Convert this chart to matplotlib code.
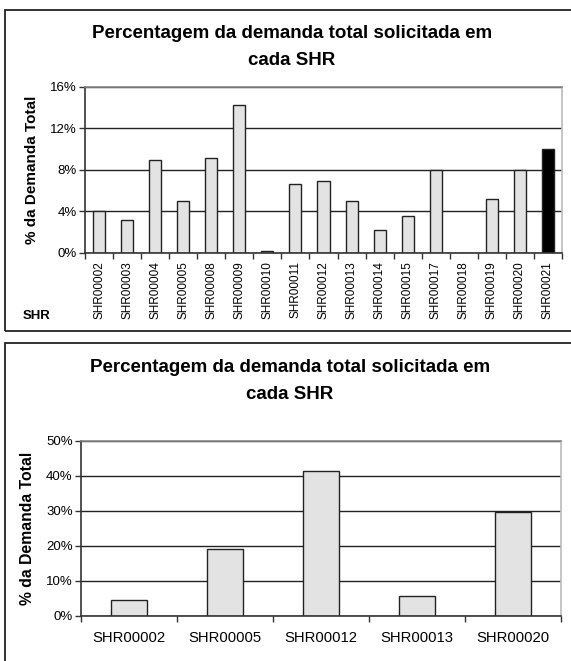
import matplotlib.pyplot as plt
from matplotlib.patches import Rectangle
from matplotlib.ticker import FuncFormatter, FixedLocator

plt.rcParams['font.family'] = ['Liberation Sans', 'DejaVu Sans']

# top chart data
shr_all = ['SHR00002', 'SHR00003', 'SHR00004', 'SHR00005', 'SHR00008', 'SHR00009',
           'SHR00010', 'SHR00011', 'SHR00012', 'SHR00013', 'SHR00014', 'SHR00015',
           'SHR00017', 'SHR00018', 'SHR00019', 'SHR00020', 'SHR00021']
pct_all = [4.0, 3.15, 8.9, 5.0, 9.15, 14.25, 0.15, 6.65, 6.95, 5.0, 2.2, 3.5,
           8.0, 0.0, 5.2, 8.0, 10.0]
highlight = 'SHR00021'

# bottom chart data
shr_sel = ['SHR00002', 'SHR00005', 'SHR00012', 'SHR00013', 'SHR00020']
pct_sel = [4.6, 19.0, 41.3, 5.5, 29.7]

W, H = 571, 661
title = 'Percentagem da demanda total solicitada em\ncada SHR'


def fx(px):
    return px / W


def fy(py):
    return 1 - py / H


def style_axes(ax, ymax, step):
    ax.set_ylim(0, ymax)
    ax.set_yticks([v for v in range(0, ymax + 1, step)])
    ax.yaxis.set_major_formatter(FuncFormatter(lambda v, p: f'{v:.0f}%'))
    ax.grid(axis='y', color='#222222', linewidth=1.0)
    ax.set_axisbelow(True)
    ax.spines['left'].set_color('#333333')
    ax.spines['bottom'].set_color('#333333')
    ax.spines['top'].set_color('#888888')
    ax.spines['right'].set_color('#bbbbbb')
    for s in ax.spines.values():
        s.set_linewidth(1.2)
    ax.tick_params(axis='y', length=4, width=1, color='#333333', pad=2)


fig = plt.figure(figsize=(W / 100, H / 100), dpi=100)

# panel frames
fig.add_artist(Rectangle((fx(5), fy(331)), fx(600), fy(10) - fy(331),
                         transform=fig.transFigure, fill=False,
                         edgecolor='#222222', linewidth=1.3))
fig.add_artist(Rectangle((fx(5), fy(700)), fx(600), fy(343) - fy(700),
                         transform=fig.transFigure, fill=False,
                         edgecolor='#222222', linewidth=1.3))

# top chart
ax1 = fig.add_axes([fx(85), fy(252.7), fx(562) - fx(85), fy(86.7) - fy(252.7)])
n = len(shr_all)
colors = ['black' if s == highlight else '#e3e3e3' for s in shr_all]
ax1.bar(range(n), pct_all, width=0.43, color=colors, edgecolor='#222222', linewidth=1.0)
ax1.set_xlim(-0.5, n - 0.5)
style_axes(ax1, 16, 4)
ax1.set_xticks(range(n))
ax1.set_xticklabels(shr_all, rotation=90, fontsize=8.5)
ax1.xaxis.set_minor_locator(FixedLocator([i - 0.5 for i in range(n + 1)]))
ax1.tick_params(axis='x', which='major', length=0, pad=6)
ax1.tick_params(axis='x', which='minor', length=4, width=1, color='#333333')
ax1.tick_params(axis='y', labelsize=9.5)
ax1.set_ylabel('% da Demanda Total', fontsize=11, fontweight='bold', labelpad=8)
fig.text(fx(37), fy(316), 'SHR', fontsize=9.5, fontweight='bold', ha='center', va='center')
fig.text(fx(292), fy(47), title, fontsize=13.5, fontweight='bold',
         ha='center', va='center', linespacing=1.7)

# bottom chart
ax2 = fig.add_axes([fx(81), fy(615.7), fx(560.7) - fx(81), fy(440.7) - fy(615.7)])
m = len(shr_sel)
ax2.bar(range(m), pct_sel, width=0.38, color='#e3e3e3', edgecolor='#222222', linewidth=1.0)
ax2.set_xlim(-0.5, m - 0.5)
style_axes(ax2, 50, 10)
ax2.set_xticks(range(m))
ax2.set_xticklabels(shr_sel, fontsize=10.7)
ax2.xaxis.set_minor_locator(FixedLocator([i - 0.5 for i in range(m + 1)]))
ax2.tick_params(axis='x', which='major', length=0, pad=11)
ax2.tick_params(axis='x', which='minor', length=4, width=1, color='#333333')
ax2.tick_params(axis='y', labelsize=9.5)
ax2.set_ylabel('% da Demanda Total', fontsize=11.3, fontweight='bold', labelpad=8)
fig.text(fx(290), fy(381), title, fontsize=13.5, fontweight='bold',
         ha='center', va='center', linespacing=1.7)

fig.savefig('out.png', dpi=100)
